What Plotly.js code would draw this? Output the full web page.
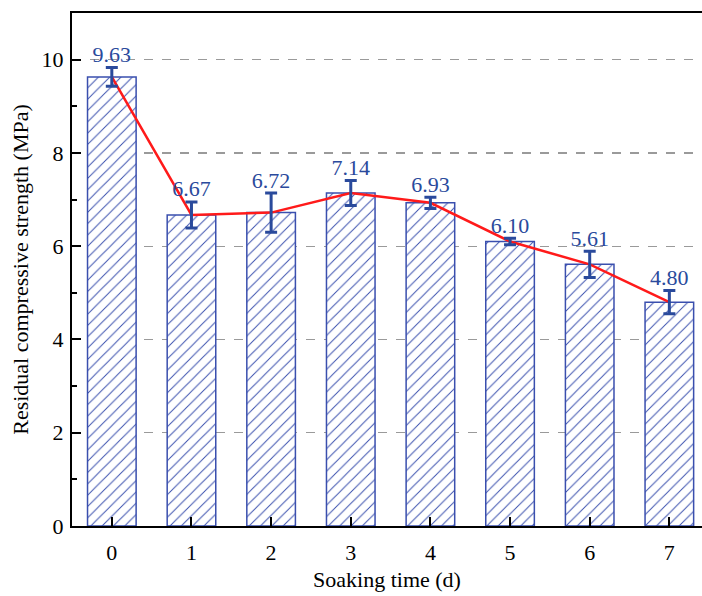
<!DOCTYPE html>
<html>
<head>
<meta charset="utf-8">
<script src="https://cdn.plot.ly/plotly-3.0.1.min.js"></script>
<style>html,body{margin:0;padding:0;background:#fff;}#chart{width:702px;height:596px;}</style>
</head>
<body>
<div id="chart"></div>
<script>
const days = [0, 1, 2, 3, 4, 5, 6, 7];
const strength = [9.63, 6.67, 6.72, 7.14, 6.93, 6.10, 5.61, 4.80];
const errors = [0.20, 0.28, 0.42, 0.27, 0.12, 0.07, 0.28, 0.25];
const labels = ["9.63", "6.67", "6.72", "7.14", "6.93", "6.10", "5.61", "4.80"];
const labelY = strength.map((v, i) => v + errors[i]);

const blue = '#3a4fae';
const dark = '#2a4a9c';
const font = "'Liberation Serif', 'Times New Roman', serif";

const traces = [
  {
    type: 'bar', x: days, y: strength, width: 0.61,
    marker: {
      color: 'white',
      line: {color: blue, width: 1.5},
      pattern: {shape: '/', fgcolor: blue, bgcolor: 'white', size: 8, solidity: 0.12}
    },
    hoverinfo: 'skip'
  },
  {
    type: 'scatter', mode: 'lines', x: days, y: strength,
    line: {color: '#ff1a1a', width: 2.5}
  },
  {
    type: 'scatter', mode: 'markers', x: days, y: strength,
    marker: {size: 1, color: 'rgba(0,0,0,0)'},
    error_y: {type: 'data', array: errors, visible: true, color: dark, thickness: 3, width: 6}
  },
  {
    type: 'scatter', mode: 'text', x: days, y: labelY, text: labels,
    textposition: 'top center',
    textfont: {family: font, size: 22, color: dark}
  }
];

const layout = {
  width: 702, height: 596,
  margin: {l: 72, r: 0, t: 13, b: 70},
  paper_bgcolor: 'white', plot_bgcolor: 'white',
  showlegend: false,
  font: {family: font, color: 'black'},
  xaxis: {
    range: [-0.5, 7.41], tickmode: 'array', tickvals: days, ticktext: days.map(String),
    ticks: 'inside', ticklen: 9, tickwidth: 2, tickcolor: 'black',
    showline: true, linecolor: 'black', linewidth: 2, mirror: true,
    showgrid: false, zeroline: false,
    tickfont: {family: font, size: 22, color: 'black'},
    ticklabelstandoff: 6,
    title: {text: 'Soaking time (d)', font: {family: font, size: 22, color: 'black'}, standoff: 7}
  },
  yaxis: {
    range: [0, 11], tickvals: [0, 2, 4, 6, 8, 10],
    ticks: 'inside', ticklen: 9, tickwidth: 2, tickcolor: 'black',
    minor: {tickvals: [1, 3, 5, 7, 9], ticks: 'inside', ticklen: 5, tickwidth: 2, tickcolor: 'black', showgrid: false},
    showline: true, linecolor: 'black', linewidth: 2,
    showgrid: true, gridcolor: '#9a9a9a', griddash: 'dash', gridwidth: 1.3,
    zeroline: false,
    tickfont: {family: font, size: 22, color: 'black'},
    ticklabelstandoff: 2,
    title: {text: 'Residual compressive strength (MPa)', font: {family: font, size: 22, color: 'black'}, standoff: 7}
  }
};

Plotly.newPlot('chart', traces, layout, {displayModeBar: false, staticPlot: true});
</script>
</body>
</html>
